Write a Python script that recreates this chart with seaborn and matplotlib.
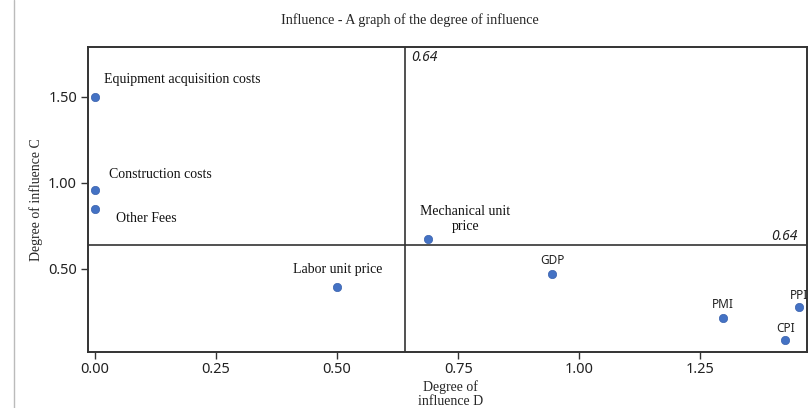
import matplotlib
matplotlib.use("Agg")
import matplotlib.pyplot as plt
import seaborn as sns
import pandas as pd
from matplotlib.lines import Line2D
from matplotlib.ticker import FormatStrFormatter

names = ["Equipment acquisition costs", "Construction costs", "Other Fees",
         "Labor unit price", "Mechanical unit\nprice", "GDP", "PMI", "PPI", "CPI"]
influence_d = [0.0, 0.0, 0.0, 0.50, 0.688, 0.944, 1.297, 1.455, 1.426]
influence_c = [1.50, 0.96, 0.85, 0.395, 0.674, 0.471, 0.215, 0.279, 0.087]
threshold_d = 0.64
threshold_c = 0.64
x_ticks = [0.0, 0.25, 0.5, 0.75, 1.0, 1.25]
y_ticks = [0.5, 1.0, 1.5]

df = pd.DataFrame({"name": names, "D": influence_d, "C": influence_c})

sns.set_style("white")
plt.rcParams['font.family'] = ['Noto Sans', 'DejaVu Sans']

fig = plt.figure(figsize=(8.09, 4.08), dpi=100)
ax = fig.add_axes([0.1088, 0.137, 0.889, 0.748])

sns.scatterplot(data=df, x="D", y="C", ax=ax, color="#4472C4", s=36,
                edgecolor="#3a62ad", linewidth=0.5, zorder=3)

ax.axvline(threshold_d, color="#333333", lw=1.2, zorder=1)
ax.axhline(threshold_c, color="#333333", lw=1.2, zorder=1)

ax.set_xlim(-0.0145, 1.471)
ax.set_ylim(0.017, 1.79)
ax.set_xticks(x_ticks)
ax.set_yticks(y_ticks)
ax.xaxis.set_major_formatter(FormatStrFormatter("%.2f"))
ax.yaxis.set_major_formatter(FormatStrFormatter("%.2f"))
ax.tick_params(axis="both", which="major", length=5, width=1, color="#333333",
               labelsize=10.5, labelcolor="#222222", direction="out", pad=3)
ax.tick_params(axis="x", pad=2)
ax.tick_params(bottom=True, left=True)
for sp in ax.spines.values():
    sp.set_color("#333333")
    sp.set_linewidth(1.4)
    sp.set_visible(True)

serif = "Liberation Serif"
ax.set_xlabel("Degree of\ninfluence D", family=serif, fontsize=10, linespacing=1.1)
ax.xaxis.set_label_coords((450 - 88) / 719, -0.092)
ax.set_ylabel("Degree of influence C", family=serif, fontsize=10)
ax.yaxis.set_label_coords(-0.062, 0.5)
fig.text(410 / 809, 1 - 20 / 408, "Influence - A graph of the degree of influence",
         family=serif, fontsize=10.2, ha="center", va="center")

# point labels (offsets in pixels)
serif_offsets = {
    "Equipment acquisition costs": (9, 17, "left"),
    "Construction costs": (14, 15, "left"),
    "Other Fees": (21, -10, "left"),
    "Labor unit price": (1, 18, "center"),
    "Mechanical unit\nprice": (37, 20, "center"),
}
sans_offsets = {
    "GDP": (0, 13, "center"),
    "PMI": (0, 14, "center"),
    "PPI": (0, 12, "center"),
    "CPI": (0, 12, "center"),
}
for n, x, y in zip(names, influence_d, influence_c):
    if n in serif_offsets:
        dx, dy, ha = serif_offsets[n]
        ax.annotate(n, (x, y), xytext=(dx, dy), textcoords="offset pixels",
                    ha=ha, va="center", family=serif, fontsize=10,
                    color="#111111", linespacing=1.25)
    else:
        dx, dy, ha = sans_offsets[n]
        ax.annotate(n, (x, y), xytext=(dx, dy), textcoords="offset pixels",
                    ha=ha, va="center", fontsize=8.5, color="#222222")

ax.annotate(f"{threshold_d:.2f}", (threshold_d, 1.79), xytext=(6, -11),
            textcoords="offset pixels", ha="left", va="center",
            style="italic", fontsize=10, color="#222222")
ax.annotate(f"{threshold_c:.2f}", (1.471, threshold_c), xytext=(-10, 8),
            textcoords="offset pixels", ha="right", va="center",
            style="italic", fontsize=10, color="#222222")

fig.add_artist(Line2D([14 / 809, 14 / 809], [0, 1], color="#bbbbbb", lw=1,
                      transform=fig.transFigure))

fig.savefig("out.png", dpi=100)
